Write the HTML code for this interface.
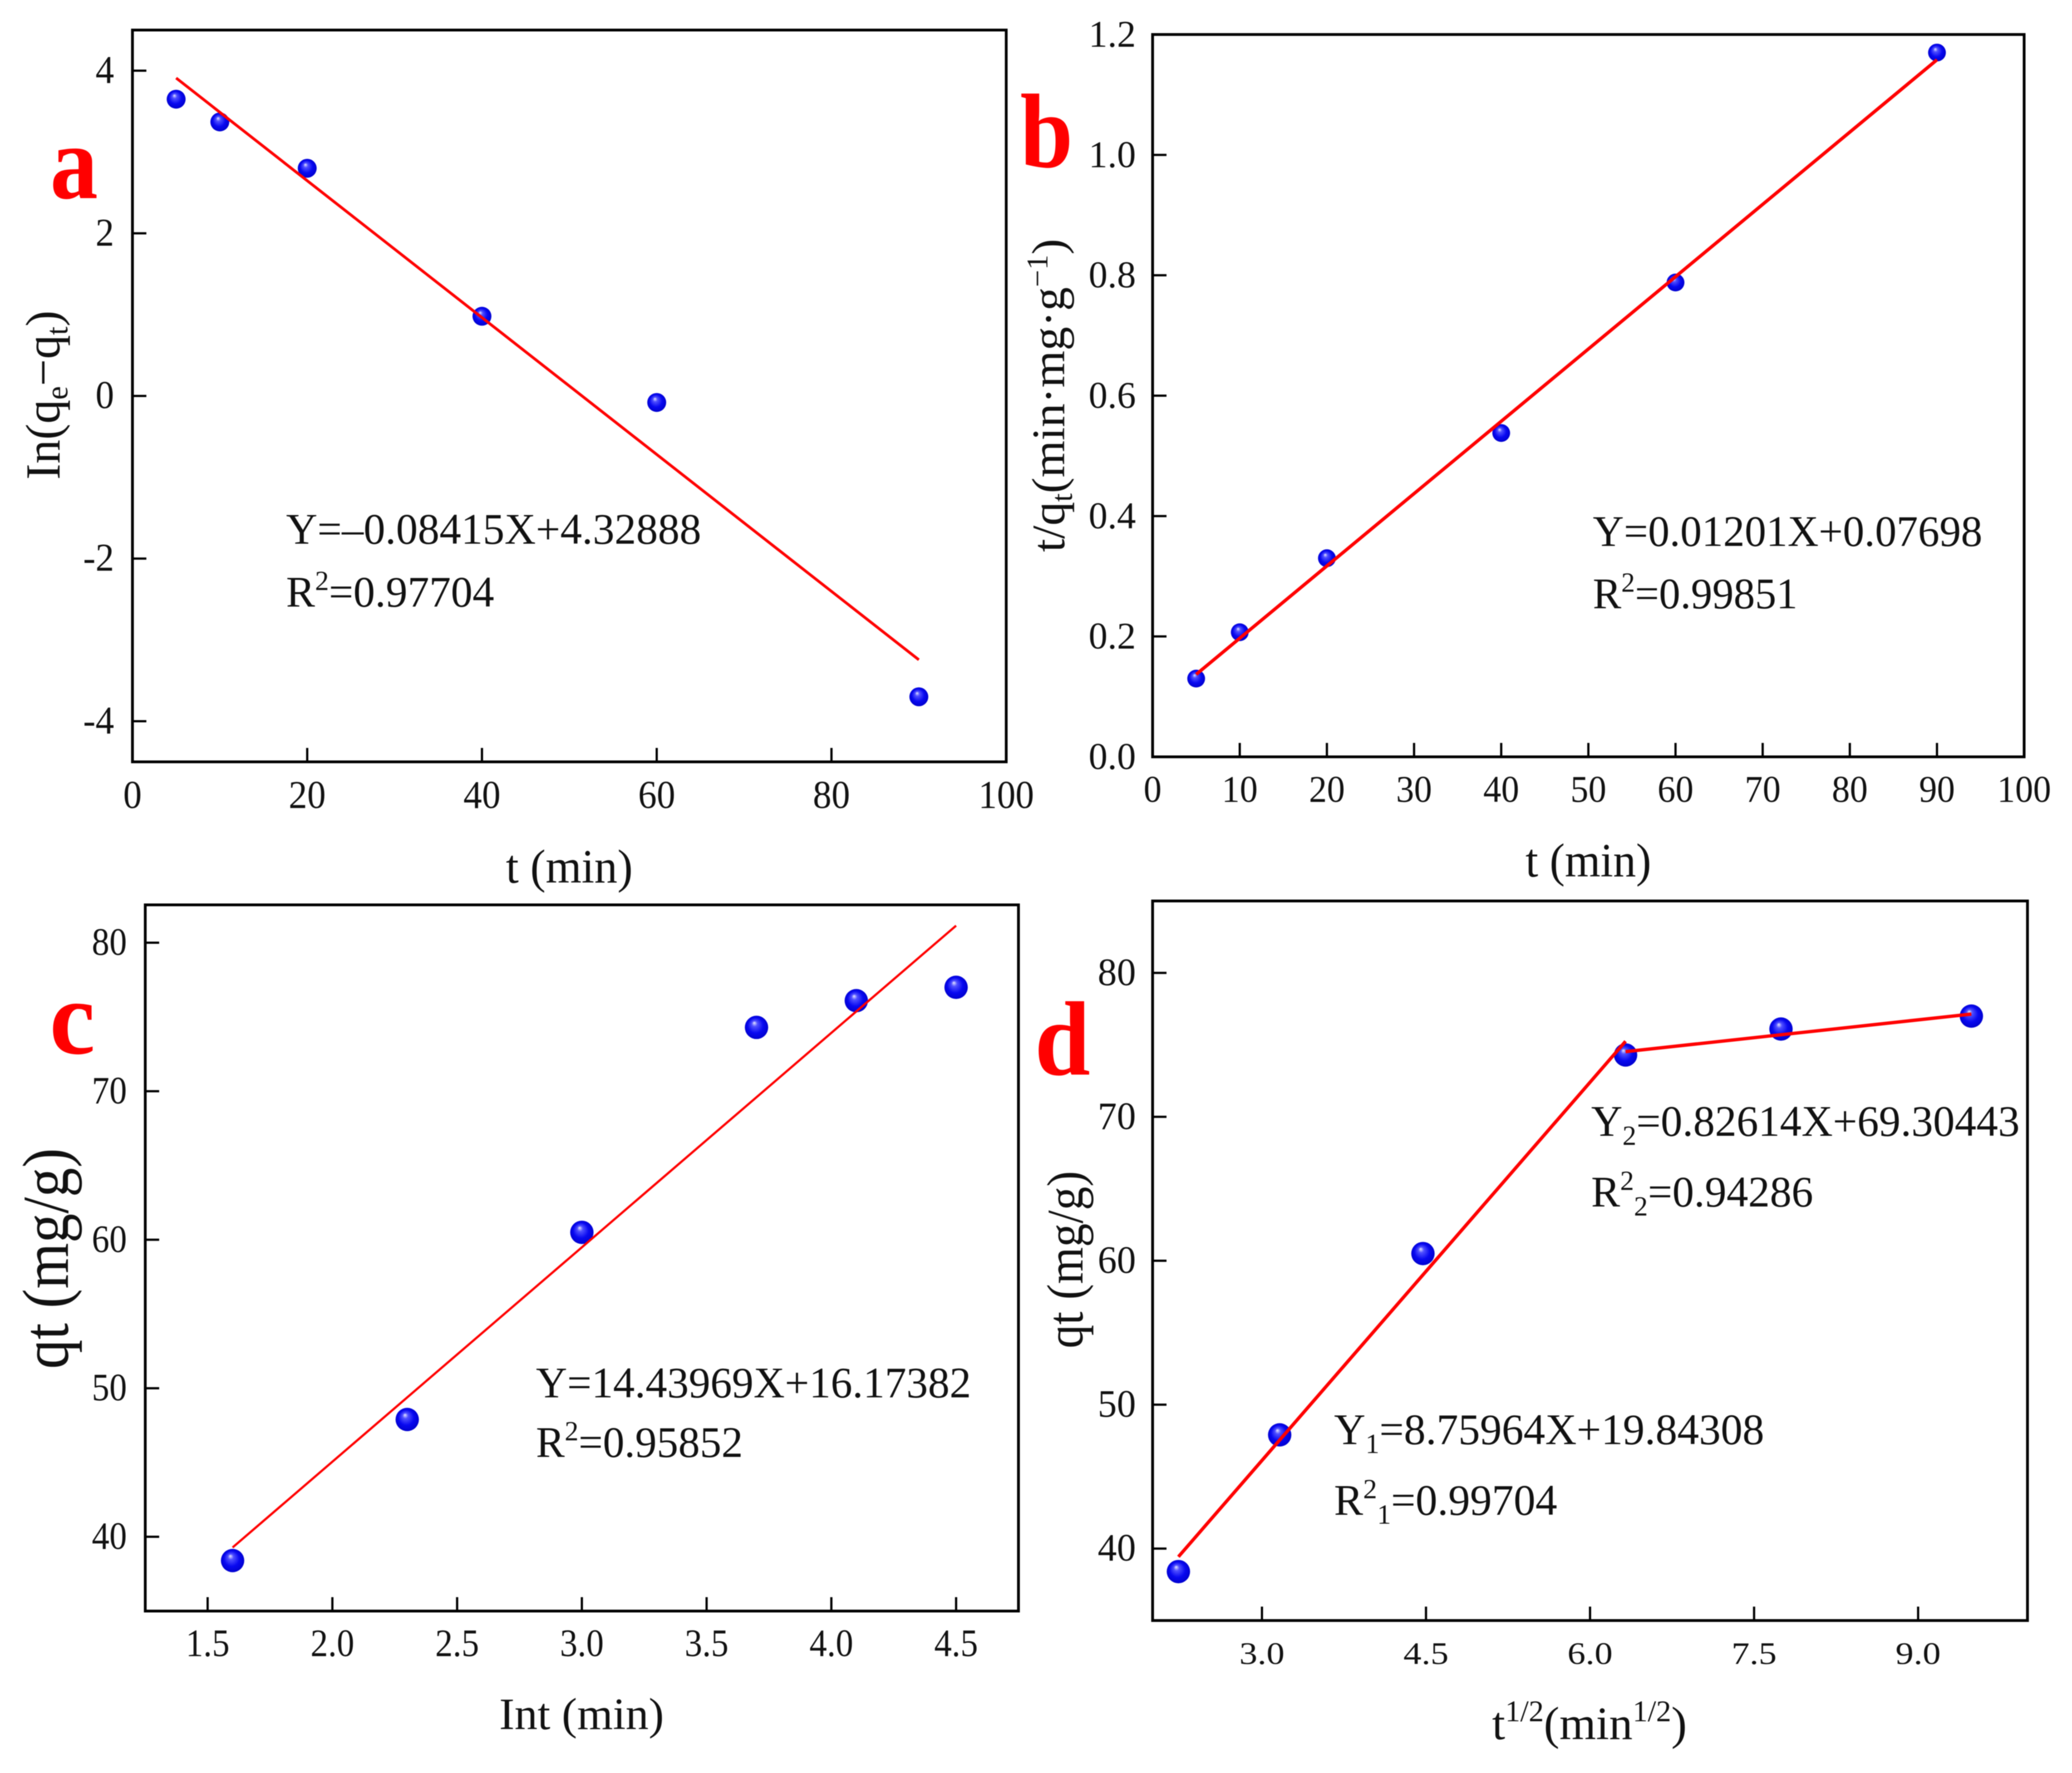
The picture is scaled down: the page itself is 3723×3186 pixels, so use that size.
<!DOCTYPE html>
<html>
<head>
<meta charset="utf-8">
<title>Adsorption kinetics fits</title>
<style>
html,body{margin:0;padding:0;background:#fff;}
svg{display:block;filter:blur(0.7px);}
text{font-family:"Liberation Serif",serif;fill:#111;}
.letter{fill:#f00;font-weight:bold;font-size:190px;}
.eq{font-size:78px;}
</style>
</head>
<body>
<svg id="figure" xmlns="http://www.w3.org/2000/svg" width="3723" height="3186" viewBox="0 0 3723 3186">
<defs>
<radialGradient id="sphere" cx="50%" cy="50%" r="55%" fx="40%" fy="30%">
<stop offset="0" stop-color="#e8e8ff"/>
<stop offset="0.22" stop-color="#5050ff"/>
<stop offset="0.6" stop-color="#0808f0"/>
<stop offset="1" stop-color="#0000c8"/>
</radialGradient>
</defs>
<rect x="0" y="0" width="3723" height="3186" fill="#fff"/>

<text class="letter" x="90" y="356" textLength="86" lengthAdjust="spacingAndGlyphs">a</text>
<text class="letter" x="1833" y="300" textLength="95" lengthAdjust="spacingAndGlyphs">b</text>
<text class="letter" x="89" y="1893" textLength="82" lengthAdjust="spacingAndGlyphs">c</text>
<text class="letter" x="1859" y="1931" textLength="100" lengthAdjust="spacingAndGlyphs">d</text>

<text transform="translate(107,862) rotate(-90)" font-size="88" textLength="304" lengthAdjust="spacingAndGlyphs">In(q<tspan dy="14" font-size="56">e</tspan><tspan dy="-14">−q</tspan><tspan dy="14" font-size="56">t</tspan><tspan dy="-14">)</tspan></text>
<text x="909" y="1586" font-size="86" textLength="228" lengthAdjust="spacingAndGlyphs">t (min)</text>
<text class="eq" x="514" y="977" textLength="746" lengthAdjust="spacingAndGlyphs">Y=–0.08415X+4.32888</text>
<text class="eq" x="514" y="1090" textLength="374" lengthAdjust="spacingAndGlyphs">R<tspan dy="-30" font-size="50">2</tspan><tspan dy="30">=0.97704</tspan></text>

<text transform="translate(1912,992) rotate(-90)" font-size="84" textLength="563" lengthAdjust="spacingAndGlyphs">t/q<tspan dy="14" font-size="54">t</tspan><tspan dy="-14">(min·mg·g</tspan><tspan dy="-30" font-size="54">−1</tspan><tspan dy="30">)</tspan></text>
<text x="2741" y="1575" font-size="86" textLength="226" lengthAdjust="spacingAndGlyphs">t (min)</text>
<text class="eq" x="2862" y="981" textLength="700" lengthAdjust="spacingAndGlyphs">Y=0.01201X+0.07698</text>
<text class="eq" x="2862" y="1093" textLength="368" lengthAdjust="spacingAndGlyphs">R<tspan dy="-30" font-size="50">2</tspan><tspan dy="30">=0.99851</tspan></text>

<text transform="translate(122,2460) rotate(-90)" font-size="118" textLength="397" lengthAdjust="spacingAndGlyphs">qt (mg/g)</text>
<text x="897" y="3107" font-size="80" textLength="296" lengthAdjust="spacingAndGlyphs">Int (min)</text>
<text class="eq" x="963" y="2511" textLength="782" lengthAdjust="spacingAndGlyphs">Y=14.43969X+16.17382</text>
<text class="eq" x="963" y="2618" textLength="372" lengthAdjust="spacingAndGlyphs">R<tspan dy="-30" font-size="50">2</tspan><tspan dy="30">=0.95852</tspan></text>

<text transform="translate(1945,2423) rotate(-90)" font-size="92" textLength="319" lengthAdjust="spacingAndGlyphs">qt (mg/g)</text>
<text x="2681" y="3125" font-size="84" textLength="350" lengthAdjust="spacingAndGlyphs">t<tspan dy="-32" font-size="54">1/2</tspan><tspan dy="32">(min</tspan><tspan dy="-32" font-size="54">1/2</tspan><tspan dy="32">)</tspan></text>
<text class="eq" x="2859" y="2041" textLength="770" lengthAdjust="spacingAndGlyphs">Y<tspan dy="16" font-size="50">2</tspan><tspan dy="-16">=0.82614X+69.30443</tspan></text>
<text class="eq" x="2859" y="2168" textLength="399" lengthAdjust="spacingAndGlyphs">R<tspan dy="-30" font-size="50">2</tspan><tspan dy="46" font-size="50">2</tspan><tspan dy="-16">=0.94286</tspan></text>
<text class="eq" x="2397" y="2595" textLength="773" lengthAdjust="spacingAndGlyphs">Y<tspan dy="16" font-size="50">1</tspan><tspan dy="-16">=8.75964X+19.84308</tspan></text>
<text class="eq" x="2397" y="2722" textLength="401" lengthAdjust="spacingAndGlyphs">R<tspan dy="-30" font-size="50">2</tspan><tspan dy="46" font-size="50">1</tspan><tspan dy="-16">=0.99704</tspan></text>
</svg>

<script>
// Panel a: pseudo-first-order
const aTime = [5, 10, 20, 40, 60, 90];
const aValues = [3.65, 3.37, 2.8, 0.98, -0.08, -3.7];
const aFitX = [5, 90];
const aFitY = [3.91, -3.245];
const aXLabels = ["0", "20", "40", "60", "80", "100"];
const aYLabels = ["-4", "-2", "0", "2", "4"];

// Panel b: pseudo-second-order
const bTime = [5, 10, 20, 40, 60, 90];
const bValues = [0.13, 0.207, 0.33, 0.538, 0.788, 1.17];
const bFitX = [5, 90];
const bFitY = [0.137, 1.158];
const bXLabels = ["0", "10", "20", "30", "40", "50", "60", "70", "80", "90", "100"];
const bYLabels = ["0.0", "0.2", "0.4", "0.6", "0.8", "1.0", "1.2"];

// Panel c: Elovich
const cLnTime = [1.6, 2.3, 3.0, 3.7, 4.1, 4.5];
const cValues = [38.4, 47.9, 60.5, 74.3, 76.1, 77.0];
const cFitX = [1.6, 4.5];
const cFitY = [39.28, 81.15];
const cXLabels = ["1.5", "2.0", "2.5", "3.0", "3.5", "4.0", "4.5"];
const cYLabels = ["40", "50", "60", "70", "80"];

// Panel d: intra-particle diffusion
const dRootTime = [2.236, 3.162, 4.472, 6.325, 7.746, 9.487];
const dValues = [38.4, 47.9, 60.5, 74.3, 76.1, 77.0];
const dFit1X = [2.236, 6.325];
const dFit1Y = [39.43, 75.25];
const dFit2X = [6.325, 9.487];
const dFit2Y = [74.53, 77.14];
const dXLabels = ["3.0", "4.5", "6.0", "7.5", "9.0"];
const dYLabels = ["40", "50", "60", "70", "80"];

const SVGNS = "http://www.w3.org/2000/svg";
const figure = document.getElementById("figure");

function scale(d0, d1, r0, r1) {
  return function (v) { return r0 + (v - d0) * (r1 - r0) / (d1 - d0); };
}

function drawPanel(key, box, dom, xs, ys, fits, xLabels, yLabels, style) {
  const sx = scale(dom.x0, dom.x1, box.l, box.r);
  const sy = scale(dom.y0, dom.y1, box.b, box.t);

  const group = document.createElementNS(SVGNS, "g");
  
  
  figure.appendChild(group);

  const frame = document.createElementNS(SVGNS, "rect");
  
  
  frame.setAttribute("x", box.l);
  frame.setAttribute("y", box.t);
  frame.setAttribute("width", box.r - box.l);
  frame.setAttribute("height", box.b - box.t);
  frame.setAttribute("fill", "none");
  frame.setAttribute("stroke", "#000");
  frame.setAttribute("stroke-width", style.frame);
  group.appendChild(frame);

  xLabels.forEach(function (label) {
    const x = sx(parseFloat(label));
    const tick = document.createElementNS(SVGNS, "line");
    
    
    tick.setAttribute("x1", x);
    tick.setAttribute("x2", x);
    tick.setAttribute("y1", box.b);
    tick.setAttribute("y2", box.b - 25);
    tick.setAttribute("stroke", "#000");
    tick.setAttribute("stroke-width", 4);
    group.appendChild(tick);

    const text = document.createElementNS(SVGNS, "text");
    
    
    text.setAttribute("transform", "translate(" + x + "," + style.xBase + ") scale(" + style.xSx + ",1)");
    text.setAttribute("text-anchor", "middle");
    text.setAttribute("font-size", style.xFont);
    text.textContent = label;
    group.appendChild(text);
  });

  yLabels.forEach(function (label) {
    const y = sy(parseFloat(label));
    const tick = document.createElementNS(SVGNS, "line");
    
    
    tick.setAttribute("x1", box.l);
    tick.setAttribute("x2", box.l + 25);
    tick.setAttribute("y1", y);
    tick.setAttribute("y2", y);
    tick.setAttribute("stroke", "#000");
    tick.setAttribute("stroke-width", 4);
    group.appendChild(tick);

    const text = document.createElementNS(SVGNS, "text");
    
    
    text.setAttribute("transform", "translate(" + style.yRight + "," + (y + 22) + ") scale(" + style.ySx + ",1)");
    text.setAttribute("text-anchor", "end");
    text.setAttribute("font-size", style.yFont);
    text.textContent = label;
    group.appendChild(text);
  });

  xs.forEach(function (v, i) {
    const dot = document.createElementNS(SVGNS, "circle");
    
    
    dot.setAttribute("cx", sx(v));
    dot.setAttribute("cy", sy(ys[i]));
    dot.setAttribute("r", style.r);
    dot.setAttribute("fill", "url(#sphere)");
    group.appendChild(dot);
  });

  fits.forEach(function (fit) {
    const line = document.createElementNS(SVGNS, "line");
    
    
    line.setAttribute("x1", sx(fit[0][0]));
    line.setAttribute("x2", sx(fit[0][1]));
    line.setAttribute("y1", sy(fit[1][0]));
    line.setAttribute("y2", sy(fit[1][1]));
    line.setAttribute("stroke", "#f00");
    line.setAttribute("stroke-width", style.line);
    group.appendChild(line);
  });
}

drawPanel("a",
  {l: 238, r: 1808, t: 54, b: 1369},
  {x0: 0, x1: 100, y0: -4.5, y1: 4.5},
  aTime, aValues, [[aFitX, aFitY]], aXLabels, aYLabels,
  {frame: 5, line: 5, r: 17, xBase: 1452, xFont: 71, xSx: 0.94, yRight: 205, yFont: 71, ySx: 0.94});

drawPanel("b",
  {l: 2071, r: 3637, t: 62, b: 1360},
  {x0: 0, x1: 100, y0: 0, y1: 1.2},
  bTime, bValues, [[bFitX, bFitY]], bXLabels, bYLabels,
  {frame: 5, line: 6, r: 16, xBase: 1441, xFont: 68, xSx: 0.95, yRight: 2041, yFont: 68, ySx: 1});

drawPanel("c",
  {l: 261, r: 1830, t: 1626, b: 2895},
  {x0: 1.25, x1: 4.75, y0: 35, y1: 82.55},
  cLnTime, cValues, [[cFitX, cFitY]], cXLabels, cYLabels,
  {frame: 5, line: 4, r: 21, xBase: 2976, xFont: 70, xSx: 0.9, yRight: 228, yFont: 70, ySx: 0.9});

drawPanel("d",
  {l: 2071, r: 3643, t: 1619, b: 2912},
  {x0: 2, x1: 10, y0: 35, y1: 85},
  dRootTime, dValues, [[dFit1X, dFit1Y], [dFit2X, dFit2Y]], dXLabels, dYLabels,
  {frame: 5, line: 6, r: 21, xBase: 2990, xFont: 56, xSx: 1.16, yRight: 2041, yFont: 70, ySx: 0.98});
</script>
</body>
</html>
